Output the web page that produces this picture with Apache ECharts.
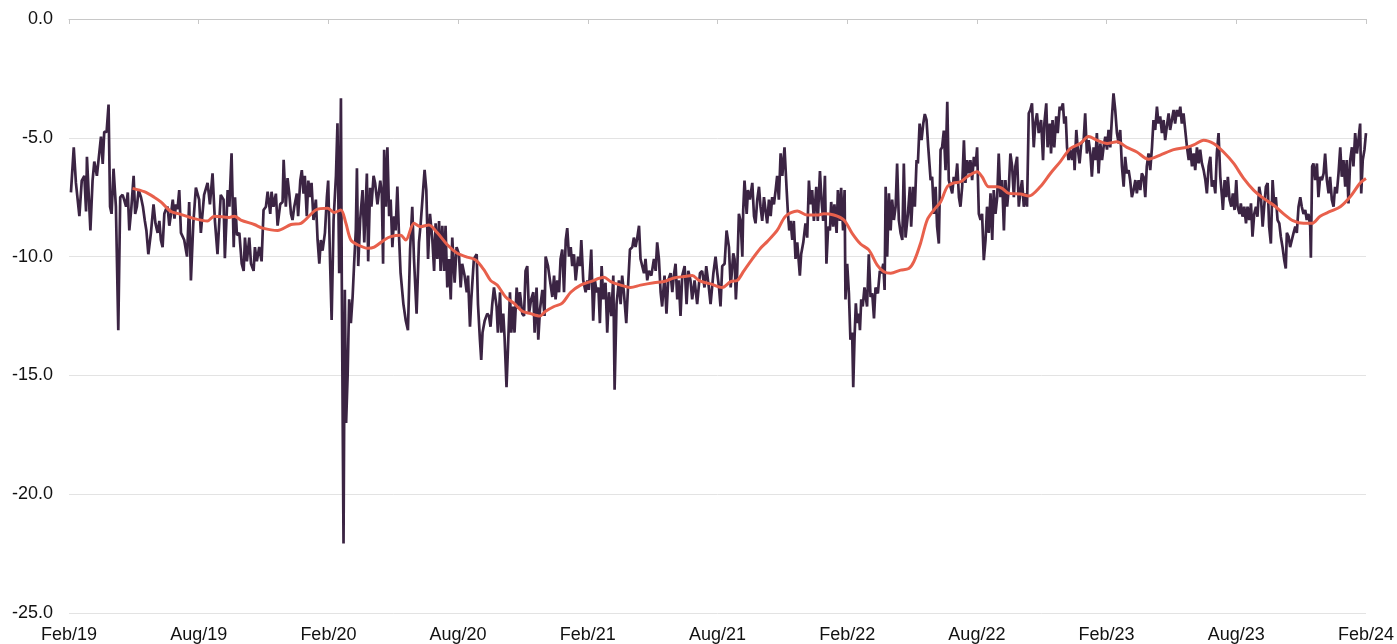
<!DOCTYPE html>
<html>
<head>
<meta charset="utf-8">
<title>Discount</title>
<script src="https://cdn.jsdelivr.net/npm/echarts@6/dist/echarts.min.js"></script>
<style>
  html, body { margin: 0; padding: 0; background: #fff; }
  #chart { width: 1397px; height: 644px; }
</style>
</head>
<body>
<div id="chart"></div>
<script>
// x values are months since Feb 2019
const xTickLabels = ['Feb/19', 'Aug/19', 'Feb/20', 'Aug/20', 'Feb/21', 'Aug/21',
  'Feb/22', 'Aug/22', 'Feb/23', 'Aug/23', 'Feb/24'];

// daily discount (%)
const discount = [
  [0.09,-7.3],[0.22,-5.4],[0.32,-6.9],[0.48,-8.3],[0.59,-6.8],[0.71,-6.6],[0.79,-8.1],[0.83,-5.8],[0.99,-8.9],[1.09,-6.8],
  [1.17,-6.0],[1.29,-6.6],[1.48,-4.95],[1.56,-6.1],[1.63,-4.75],[1.74,-4.75],[1.83,-3.6],[1.90,-7.9],[1.97,-8.2],[2.06,-6.3],
  [2.17,-7.9],[2.28,-13.1],[2.37,-7.5],[2.48,-7.4],[2.55,-7.6],[2.64,-7.9],[2.72,-7.3],[2.79,-8.9],[2.88,-8.0],[2.99,-6.6],
  [3.06,-8.2],[3.14,-7.9],[3.22,-7.2],[3.33,-7.5],[3.42,-7.9],[3.51,-8.5],[3.58,-8.9],[3.67,-9.9],[3.79,-9.0],[3.91,-7.8],
  [4.0,-8.6],[4.10,-9.0],[4.18,-8.5],[4.25,-9.3],[4.33,-9.6],[4.41,-8.2],[4.49,-8.0],[4.56,-7.9],[4.64,-8.7],[4.72,-8.2],
  [4.80,-7.6],[4.88,-8.4],[4.95,-7.8],[5.02,-8.0],[5.10,-7.2],[5.18,-9.0],[5.33,-9.3],[5.46,-10.0],[5.56,-7.7],[5.64,-11.0],
  [5.75,-8.6],[5.87,-7.1],[6.02,-7.6],[6.10,-9.0],[6.25,-7.4],[6.41,-6.9],[6.52,-7.8],[6.64,-6.5],[6.75,-8.5],[6.87,-9.9],
  [7.02,-7.4],
  // Aug/19 - Feb/20
  [7.15,-7.6],[7.21,-10.07],[7.34,-7.2],[7.42,-7.9],[7.52,-5.65],[7.62,-9.6],[7.68,-7.5],[7.77,-9.1],[7.88,-9.0],[7.99,-10.3],
  [8.08,-10.6],[8.14,-9.2],[8.23,-10.2],[8.34,-9.2],[8.42,-10.3],[8.54,-10.6],[8.60,-9.6],[8.69,-10.2],[8.80,-9.6],[8.91,-10.2],
  [9.00,-8.04],[9.11,-7.9],[9.19,-7.27],[9.31,-8.2],[9.37,-7.27],[9.46,-7.9],[9.57,-7.35],[9.65,-8.7],[9.77,-7.8],[9.88,-7.7],
  [9.93,-5.93],[10.03,-7.9],[10.11,-6.7],[10.19,-7.35],[10.27,-8.2],[10.34,-8.46],[10.42,-7.9],[10.54,-7.35],[10.60,-8.3],[10.70,-6.8],
  [10.77,-6.36],[10.85,-7.35],[10.91,-6.6],[11.00,-8.3],[11.07,-6.8],[11.16,-7.5],[11.22,-6.9],[11.31,-8.46],[11.42,-7.6],[11.50,-9.3],
  [11.58,-10.3],[11.65,-9.3],[11.73,-9.75],[11.84,-9.0],[11.93,-7.5],[11.99,-6.8],
  // Feb/20 - Aug/20
  [12.08,-10.3],[12.15,-12.67],[12.24,-8.46],[12.35,-6.6],[12.42,-4.39],[12.50,-10.7],[12.58,-3.34],[12.62,-11.1],[12.70,-22.07],[12.76,-11.4],
  [12.82,-17.0],[12.89,-15.0],[12.96,-11.8],[13.04,-12.8],[13.12,-11.7],[13.19,-10.3],[13.27,-8.85],[13.32,-6.28],[13.38,-10.4],[13.47,-8.46],
  [13.58,-7.2],[13.66,-9.4],[13.78,-6.5],[13.84,-10.2],[13.93,-7.1],[13.99,-7.9],[14.09,-6.6],[14.16,-6.9],[14.27,-7.8],[14.40,-6.8],
  [14.47,-7.35],[14.53,-10.3],[14.58,-5.5],[14.66,-7.9],[14.73,-5.4],[14.81,-8.3],[14.88,-7.6],[14.96,-9.6],[15.04,-8.3],[15.11,-8.9],
  [15.19,-7.05],[15.27,-9.2],[15.34,-10.7],[15.47,-12.0],[15.58,-12.7],[15.68,-13.1],[15.78,-9.7],[15.88,-7.9],[15.96,-10.1],[16.08,-12.4],
  [16.19,-9.4],[16.27,-8.6],[16.35,-7.6],[16.45,-6.35],[16.53,-7.2],[16.61,-10.1],[16.70,-8.2],[16.81,-9.3],[16.89,-10.6],[16.96,-8.6],
  [17.04,-10.1],[17.12,-8.5],[17.19,-10.6],[17.27,-8.7],[17.35,-10.6],[17.42,-8.7],[17.50,-11.3],[17.58,-10.1],[17.66,-11.8],[17.73,-9.2],
  [17.84,-11.1],[17.93,-9.6],
  // Aug/20 - Feb/21
  [18.04,-9.9],[18.12,-11.3],[18.19,-10.3],[18.30,-10.8],[18.40,-11.5],[18.46,-10.8],[18.55,-12.95],[18.61,-11.8],[18.73,-10.1],[18.86,-9.9],
  [18.92,-12.0],[19.01,-13.5],[19.07,-14.35],[19.13,-13.2],[19.23,-12.7],[19.35,-12.4],[19.43,-12.5],[19.50,-12.95],[19.58,-12.0],[19.66,-11.3],
  [19.78,-12.1],[19.84,-13.2],[19.94,-11.5],[20.0,-13.2],[20.09,-12.4],[20.15,-13.4],[20.24,-15.5],[20.31,-13.8],[20.40,-11.5],[20.46,-13.2],
  [20.55,-12.1],[20.61,-13.2],[20.71,-11.3],[20.78,-12.2],[20.86,-11.5],[20.97,-12.4],[21.05,-12.5],[21.12,-10.6],[21.20,-10.4],[21.28,-12.4],
  [21.38,-11.8],[21.48,-11.5],[21.54,-13.2],[21.63,-11.3],[21.71,-13.5],[21.79,-12.2],[21.90,-11.4],[22.0,-12.5],[22.05,-10.0],[22.16,-10.4],
  [22.25,-11.0],[22.36,-11.7],[22.44,-10.8],[22.51,-11.8],[22.59,-11.0],[22.67,-11.5],[22.74,-10.1],[22.82,-9.7],[22.90,-11.5],[22.98,-9.3],
  [23.05,-8.8],[23.13,-10.0],[23.21,-9.6],[23.28,-10.4],[23.36,-9.9],[23.44,-11.0],[23.55,-10.0],[23.64,-10.4],[23.70,-9.3],[23.79,-11.0],
  [23.90,-11.5],[23.98,-11.0],
  // Feb/21 - Aug/21
  [24.05,-11.4],[24.16,-9.7],[24.25,-12.7],[24.33,-11.0],[24.41,-11.5],[24.49,-11.3],[24.56,-12.8],[24.64,-10.4],[24.72,-11.8],[24.82,-11.1],
  [24.90,-13.2],[24.98,-11.5],[25.09,-12.5],[25.18,-10.8],[25.24,-15.6],[25.33,-12.0],[25.44,-11.0],[25.52,-12.0],[25.59,-10.8],[25.67,-11.5],
  [25.78,-12.8],[25.86,-11.3],[25.95,-9.7],[26.06,-9.6],[26.13,-9.2],[26.21,-9.6],[26.29,-9.2],[26.37,-8.7],[26.44,-10.1],[26.52,-10.1],
  [26.60,-10.7],[26.67,-10.1],[26.75,-11.0],[26.83,-10.6],[26.94,-10.8],[27.06,-10.1],[27.14,-10.6],[27.21,-9.4],[27.29,-10.1],[27.37,-11.5],
  [27.44,-12.1],[27.55,-10.8],[27.64,-12.4],[27.72,-11.0],[27.83,-10.7],[27.91,-11.5],[27.98,-10.8],[28.06,-10.3],[28.14,-11.8],[28.21,-11.0],
  [28.29,-12.5],[28.37,-10.8],[28.48,-10.4],[28.57,-12.0],[28.65,-10.6],[28.75,-11.0],[28.83,-11.8],[28.94,-11.0],[29.06,-12.0],[29.19,-10.7],
  [29.29,-10.6],[29.40,-11.3],[29.48,-10.4],[29.60,-11.3],[29.68,-12.0],[29.81,-10.7],[29.91,-10.0],[29.99,-10.7],
  // Aug/21 - Feb/22
  [30.07,-11.3],[30.14,-12.1],[30.22,-10.4],[30.33,-10.3],[30.42,-8.9],[30.53,-9.6],[30.61,-11.3],[30.73,-9.86],[30.79,-10.1],[30.85,-11.8],
  [30.91,-10.7],[30.99,-8.2],[31.07,-8.5],[31.15,-10.0],[31.19,-8.04],[31.25,-6.8],[31.35,-8.2],[31.41,-7.2],[31.50,-7.6],[31.61,-6.9],
  [31.69,-8.3],[31.76,-8.6],[31.84,-7.6],[31.92,-7.06],[31.99,-7.9],[32.07,-8.5],[32.15,-7.5],[32.22,-8.04],[32.30,-8.6],[32.38,-7.6],
  [32.46,-8.3],[32.53,-7.5],[32.61,-7.8],[32.69,-7.2],[32.76,-6.6],[32.84,-7.6],[32.92,-5.65],[33.0,-6.6],[33.10,-5.4],[33.20,-7.2],
  [33.26,-8.2],[33.32,-8.9],[33.38,-8.5],[33.46,-9.3],[33.53,-8.5],[33.61,-10.1],[33.69,-9.4],[33.81,-10.8],[33.87,-9.9],[33.97,-9.4],
  [34.07,-8.6],[34.15,-9.2],[34.23,-6.8],[34.30,-7.8],[34.38,-7.2],[34.46,-8.5],[34.57,-7.06],[34.64,-8.5],[34.74,-6.4],[34.81,-7.6],
  [34.89,-8.5],[34.97,-6.6],[35.04,-10.3],[35.12,-8.74],[35.20,-8.9],[35.26,-7.7],[35.35,-8.74],[35.41,-7.8],[35.51,-9.0],[35.57,-7.2],
  [35.66,-8.5],[35.72,-7.1],[35.81,-8.9],[35.88,-7.2],[35.92,-11.8],
  // Feb/22 - Aug/22
  [36.0,-10.3],[36.08,-11.55],[36.15,-13.5],[36.23,-13.2],[36.28,-15.5],[36.34,-13.4],[36.40,-11.97],[36.46,-12.8],[36.54,-12.4],[36.59,-13.1],
  [36.65,-11.8],[36.72,-12.1],[36.80,-11.3],[36.86,-11.7],[36.92,-12.1],[37.0,-9.9],[37.08,-11.7],[37.16,-11.55],[37.24,-12.6],[37.31,-11.3],
  [37.42,-11.55],[37.51,-10.6],[37.58,-10.7],[37.67,-10.3],[37.73,-11.4],[37.78,-7.06],[37.85,-10.0],[37.93,-7.34],[38.01,-8.9],[38.08,-7.6],
  [38.16,-8.46],[38.24,-7.9],[38.31,-6.08],[38.39,-8.46],[38.47,-9.0],[38.55,-9.3],[38.62,-6.08],[38.70,-9.2],[38.81,-8.2],[38.90,-7.06],
  [38.96,-8.74],[39.05,-7.06],[39.13,-7.9],[39.21,-5.94],[39.27,-6.08],[39.35,-4.4],[39.44,-5.1],[39.52,-4.4],[39.59,-4.0],[39.67,-4.25],
  [39.75,-5.4],[39.86,-6.78],[39.93,-6.64],[40.01,-8.2],[40.09,-7.06],[40.16,-8.74],[40.24,-9.45],[40.32,-5.5],[40.39,-5.4],[40.47,-4.7],
  [40.55,-6.36],[40.63,-3.48],[40.70,-6.78],[40.78,-6.78],[40.86,-7.34],[40.93,-6.64],[41.01,-6.9],[41.09,-6.08],[41.17,-7.5],[41.24,-7.9],
  [41.32,-7.06],[41.40,-5.1],[41.47,-6.9],[41.55,-5.94],[41.63,-6.5],[41.70,-5.94],[41.78,-6.78],[41.86,-5.8],[41.94,-6.2],
  // Aug/22 - Feb/23
  [42.01,-5.4],[42.09,-8.2],[42.17,-8.46],[42.24,-8.2],[42.32,-10.15],[42.40,-9.3],[42.47,-7.9],[42.55,-9.0],[42.63,-7.34],[42.71,-9.3],
  [42.78,-7.2],[42.86,-8.2],[42.94,-7.5],[43.01,-5.66],[43.09,-7.5],[43.17,-6.78],[43.25,-8.9],[43.32,-6.78],[43.40,-7.9],[43.48,-7.06],
  [43.55,-5.66],[43.63,-6.2],[43.71,-7.5],[43.78,-6.2],[43.86,-5.8],[43.94,-7.9],[44.02,-7.2],[44.09,-6.78],[44.17,-7.9],[44.25,-7.34],
  [44.32,-7.9],[44.40,-3.97],[44.47,-3.83],[44.55,-3.55],[44.63,-5.4],[44.70,-4.4],[44.78,-3.97],[44.86,-4.8],[44.97,-4.25],[45.06,-5.94],
  [45.12,-4.4],[45.21,-3.55],[45.27,-5.4],[45.37,-4.4],[45.43,-5.66],[45.50,-4.25],[45.58,-5.4],[45.67,-4.1],[45.74,-4.8],[45.83,-3.69],
  [45.89,-3.83],[45.98,-3.55],[46.04,-4.4],[46.11,-4.1],[46.17,-5.4],[46.24,-5.94],[46.32,-5.5],[46.40,-5.94],[46.48,-5.4],[46.52,-6.36],
  [46.60,-4.67],[46.66,-5.4],[46.75,-6.08],[46.83,-5.24],[46.94,-5.1],[47.01,-3.97],[47.09,-5.66],[47.17,-5.1],[47.25,-5.66],[47.32,-6.64],
  [47.40,-5.4],[47.48,-5.94],[47.55,-4.8],[47.63,-6.5],[47.71,-5.24],[47.79,-5.94],[47.86,-5.4],[47.94,-4.95],
  // Feb/23 - Aug/23
  [48.02,-5.5],[48.09,-4.67],[48.17,-5.4],[48.25,-4.1],[48.32,-3.13],[48.40,-3.83],[48.48,-4.8],[48.56,-5.24],[48.63,-4.67],[48.71,-6.2],
  [48.79,-7.06],[48.86,-5.8],[48.94,-6.5],[49.02,-6.36],[49.09,-6.78],[49.17,-7.5],[49.25,-7.2],[49.33,-6.78],[49.40,-7.34],[49.48,-6.78],
  [49.56,-7.2],[49.63,-6.5],[49.71,-6.64],[49.79,-7.5],[49.86,-6.2],[49.94,-5.66],[50.02,-6.36],[50.10,-5.4],[50.17,-4.25],[50.25,-4.67],
  [50.33,-3.69],[50.40,-4.4],[50.48,-4.1],[50.56,-4.8],[50.64,-4.25],[50.71,-5.1],[50.79,-4.5],[50.87,-3.97],[50.94,-4.67],[51.02,-4.25],
  [51.10,-3.83],[51.17,-4.4],[51.25,-3.83],[51.33,-4.1],[51.41,-3.69],[51.48,-4.4],[51.56,-3.97],[51.72,-5.4],[51.80,-5.94],[51.87,-5.4],
  [51.95,-6.2],[52.03,-5.66],[52.10,-6.36],[52.18,-5.4],[52.26,-6.08],[52.33,-5.5],[52.41,-6.08],[52.49,-6.36],[52.57,-6.78],[52.64,-7.34],
  [52.72,-6.2],[52.80,-5.8],[52.87,-7.06],[52.95,-6.78],[53.03,-7.34],[53.10,-5.66],[53.18,-4.8],[53.26,-6.64],[53.34,-7.5],[53.38,-8.04],
  [53.46,-6.78],[53.54,-7.5],[53.61,-6.64],[53.69,-7.6],[53.77,-7.9],[53.84,-7.34],[53.92,-8.04],
  // Aug/23 - Feb/24
  [54.0,-6.78],[54.06,-7.9],[54.15,-8.2],[54.21,-7.76],[54.29,-8.32],[54.37,-7.9],[54.45,-8.6],[54.52,-7.9],[54.60,-8.46],[54.68,-7.76],
  [54.75,-9.16],[54.83,-8.2],[54.91,-7.9],[54.98,-8.32],[55.06,-7.06],[55.14,-7.5],[55.22,-8.74],[55.29,-7.9],[55.37,-7.06],[55.45,-6.9],
  [55.52,-8.74],[55.60,-9.45],[55.68,-6.78],[55.76,-7.9],[55.83,-7.5],[55.91,-8.46],[55.99,-8.6],[56.06,-9.16],[56.14,-9.6],[56.22,-10.15],
  [56.29,-10.5],[56.34,-9.0],[56.42,-9.16],[56.49,-9.6],[56.57,-9.3],[56.65,-9.0],[56.73,-8.74],[56.80,-9.0],[56.88,-7.9],[56.96,-7.5],
  [57.03,-7.9],[57.11,-8.2],[57.19,-8.04],[57.26,-8.46],[57.34,-8.2],[57.42,-8.74],[57.45,-10.05],[57.51,-6.2],[57.57,-6.08],[57.65,-6.78],
  [57.73,-6.08],[57.80,-7.5],[57.88,-6.64],[57.96,-6.78],[58.04,-6.5],[58.11,-5.66],[58.19,-6.78],[58.27,-7.34],[58.34,-6.64],[58.42,-7.6],
  [58.50,-7.9],[58.57,-7.06],[58.65,-7.34],[58.73,-6.5],[58.81,-5.4],[58.88,-6.64],[58.96,-5.94],[59.04,-7.06],[59.11,-5.94],[59.19,-7.76],
  [59.27,-5.94],[59.35,-5.4],[59.42,-6.2],[59.50,-4.8],[59.58,-5.66],[59.65,-5.1],[59.73,-4.4],[59.78,-7.34],[59.85,-5.94],[59.93,-5.5],
  [60.0,-4.8]
];

// 3-month moving average of the discount
const discountMA = [
  [2.94,-7.13],[3.48,-7.27],[3.94,-7.5],[4.25,-7.7],[4.72,-8.1],[5.10,-8.2],[5.79,-8.4],[6.41,-8.5],[6.72,-8.3],[7.41,-8.35],
  [7.65,-8.3],[7.95,-8.46],[8.57,-8.65],[8.96,-8.8],[9.65,-8.9],[10.27,-8.65],[10.73,-8.6],[11.42,-8.04],[11.96,-7.97],[12.27,-8.14],
  [12.58,-8.04],[12.81,-8.6],[13.04,-9.3],[13.35,-9.5],[13.81,-9.65],[14.12,-9.6],[14.58,-9.3],[14.88,-9.16],[15.34,-9.1],[15.58,-9.3],
  [15.96,-8.6],[16.27,-8.74],[16.65,-8.67],[17.04,-9.0],[17.50,-9.5],[17.96,-9.86],[18.35,-10.0],[18.81,-10.14],[19.20,-10.56],[19.50,-11.0],
  [19.81,-11.2],[20.20,-11.7],[20.58,-11.96],[20.97,-12.3],[21.35,-12.4],[21.78,-12.5],[22.05,-12.3],[22.44,-12.1],[22.82,-11.96],[23.21,-11.5],
  [23.67,-11.2],[24.13,-11.05],[24.75,-10.87],[25.06,-11.05],[25.52,-11.2],[25.98,-11.3],[26.44,-11.2],[27.06,-11.1],[27.52,-11.05],[27.98,-10.9],
  [28.45,-10.84],[28.83,-10.8],[29.14,-11.0],[29.45,-11.1],[29.68,-11.15],[30.22,-11.3],[30.61,-11.05],[30.92,-11.0],[31.22,-10.6],[31.53,-10.2],
  [31.99,-9.65],[32.30,-9.37],[32.76,-8.9],[33.15,-8.3],[33.69,-8.08],[34.15,-8.25],[34.61,-8.25],[34.92,-8.2],[35.38,-8.25],[35.85,-8.46],
  [36.23,-9.02],[36.62,-9.47],[37.0,-9.72],[37.39,-10.36],[37.70,-10.64],[38.01,-10.7],[38.47,-10.57],[38.85,-10.5],[39.09,-10.2],[39.39,-9.45],
  [39.70,-8.46],[40.01,-8.04],[40.32,-7.7],[40.63,-7.06],[40.93,-6.9],[41.24,-6.85],[41.55,-6.64],[42.01,-6.43],[42.24,-6.64],[42.55,-7.06],
  [42.94,-7.06],[43.17,-7.13],[43.48,-7.34],[44.02,-7.37],[44.40,-7.45],[44.93,-7.06],[45.40,-6.5],[45.86,-6.0],[46.32,-5.45],[46.78,-5.24],
  [47.17,-4.95],[47.55,-5.1],[48.02,-5.24],[48.48,-5.17],[48.94,-5.4],[49.40,-5.6],[49.94,-5.9],[50.48,-5.73],[51.10,-5.5],[51.71,-5.4],
  [52.03,-5.3],[52.49,-5.1],[52.95,-5.24],[53.41,-5.6],[53.88,-6.08],[54.34,-6.71],[54.80,-7.2],[55.26,-7.55],[55.72,-7.83],[56.19,-8.2],
  [56.65,-8.5],[57.11,-8.6],[57.50,-8.6],[57.88,-8.3],[58.34,-8.1],[58.81,-7.9],[59.27,-7.48],[59.73,-6.9],[60.0,-6.71]
];

const chart = echarts.init(document.getElementById('chart'));
const font = '"Liberation Sans", Arial, sans-serif';
const monthAxis = {
  type: 'value',
  min: 0,
  max: 60,
  interval: 6,
  splitLine: { show: false }
};

chart.setOption({
  animation: false,
  grid: { left: 69, right: 30, top: 19, bottom: 31 },
  xAxis: [
    Object.assign({}, monthAxis, {
      position: 'bottom',
      axisLine: { show: false, onZero: false },
      axisTick: { show: false },
      axisLabel: {
        margin: 13,
        fontSize: 18,
        fontFamily: font,
        color: '#111',
        formatter: v => xTickLabels[Math.round(v / 6)]
      }
    }),
    Object.assign({}, monthAxis, {
      position: 'top',
      axisLine: { show: true, onZero: false, lineStyle: { color: '#c8c8c8', width: 1 } },
      axisTick: { show: true, inside: true, length: 5, lineStyle: { color: '#c8c8c8' } },
      axisLabel: { show: false }
    })
  ],
  yAxis: {
    type: 'value',
    min: -25,
    max: 0,
    interval: 5,
    axisLine: { show: false },
    axisTick: { show: false },
    axisLabel: {
      margin: 16,
      fontSize: 18,
      fontFamily: font,
      color: '#111',
      formatter: v => v.toFixed(1)
    },
    splitLine: { lineStyle: { color: '#e3e3e3', width: 1 } }
  },
  series: [
    {
      name: 'Discount',
      type: 'line',
      xAxisIndex: 0,
      data: discount,
      showSymbol: false,
      lineStyle: { color: '#3b2443', width: 2.7 },
      z: 2
    },
    {
      name: 'Moving average',
      type: 'line',
      xAxisIndex: 0,
      data: discountMA,
      showSymbol: false,
      smooth: 0.3,
      lineStyle: { color: '#e8604c', width: 3 },
      z: 3
    }
  ]
});
</script>
</body>
</html>
